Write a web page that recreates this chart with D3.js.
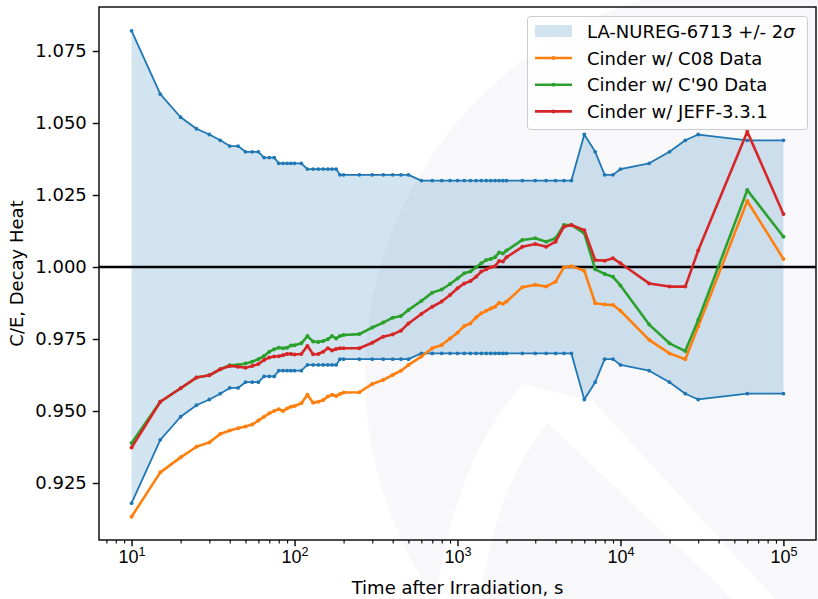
<!DOCTYPE html>
<html>
<head>
<meta charset="utf-8">
<script src="https://cdn.jsdelivr.net/npm/d3@7"></script>
<style>
  body { margin: 0; background: #fff; }
  svg { display: block; font-family: "DejaVu Sans", sans-serif; }
</style>
</head>
<body>
<svg id="chart" width="818" height="599"></svg>
<script>
// time after irradiation, s
let times = [10,15,20,25,30,35,40,45,50,55,60,65,70,75,80,85,90,95,100,
  110,120,130,140,150,160,170,180,190,200,250,300,350,400,450,500,
  600,700,800,900,1000,1100,1200,1300,1400,1500,1600,1700,1800,1900,2000,
  2500,3000,3500,4000,4500,5000,6000,7000,8000,9000,10000,
  15000,20000,25000,30000,60000,100000]

// LA-NUREG-6713 +/- 2 sigma band
let upper = [1.082,1.060,1.052,1.048,1.046,1.044,1.042,1.042,1.040,1.040,1.040,1.038,1.038,1.038,1.036,1.036,1.036,1.036,1.036,
  1.036,1.034,1.034,1.034,1.034,1.034,1.034,1.034,1.032,1.032,1.032,1.032,1.032,1.032,1.032,1.032,
  1.030,1.030,1.030,1.030,1.030,1.030,1.030,1.030,1.030,1.030,1.030,1.030,1.030,1.030,1.030,
  1.030,1.030,1.030,1.030,1.030,1.030,1.046,1.040,1.032,1.032,1.034,
  1.036,1.040,1.044,1.046,1.044,1.044]
let lower = [0.918,0.940,0.948,0.952,0.954,0.956,0.958,0.958,0.960,0.960,0.960,0.962,0.962,0.962,0.964,0.964,0.964,0.964,0.964,
  0.964,0.966,0.966,0.966,0.966,0.966,0.966,0.966,0.968,0.968,0.968,0.968,0.968,0.968,0.968,0.968,
  0.970,0.970,0.970,0.970,0.970,0.970,0.970,0.970,0.970,0.970,0.970,0.970,0.970,0.970,0.970,
  0.970,0.970,0.970,0.970,0.970,0.970,0.954,0.960,0.968,0.968,0.966,
  0.964,0.960,0.956,0.954,0.956,0.956]

let c08 = [0.9133,0.9287,0.9339,0.9376,0.9391,0.9420,0.9432,0.9440,0.9446,0.9453,0.9467,0.9480,0.9492,0.9500,0.9506,0.9500,0.9509,0.9515,0.9517,
  0.9527,0.9556,0.9529,0.9532,0.9538,0.9550,0.9556,0.9552,0.9559,0.9564,0.9565,0.9594,0.9608,0.9625,0.9640,0.9660,
  0.9689,0.9718,0.9729,0.9752,0.9772,0.9795,0.9804,0.9825,0.9839,0.9848,0.9856,0.9862,0.9876,0.9872,0.9880,
  0.9930,0.9938,0.9932,0.9949,0.9999,1.0003,0.9987,0.9874,0.9870,0.9868,0.9848,
  0.9747,0.9700,0.9680,0.9793,1.0229,1.0028]
let c90 = [0.9389,0.9532,0.9579,0.9616,0.9624,0.9645,0.9659,0.9660,0.9665,0.9671,0.9680,0.9691,0.9706,0.9714,0.9720,0.9718,0.9720,0.9727,0.9728,
  0.9735,0.9760,0.9741,0.9740,0.9743,0.9749,0.9760,0.9752,0.9760,0.9764,0.9767,0.9790,0.9807,0.9824,0.9830,0.9851,
  0.9882,0.9911,0.9922,0.9941,0.9960,0.9978,0.9984,0.9999,1.0013,1.0024,1.0028,1.0034,1.0050,1.0047,1.0057,
  1.0094,1.0100,1.0088,1.0100,1.0146,1.0146,1.0117,0.9992,0.9976,0.9966,0.9936,
  0.9800,0.9735,0.9708,0.9816,1.0267,1.0105]
let jeff = [0.9373,0.9532,0.9579,0.9616,0.9624,0.9645,0.9656,0.9654,0.9650,0.9656,0.9663,0.9677,0.9686,0.9689,0.9690,0.9694,0.9698,0.9698,0.9696,
  0.9698,0.9726,0.9697,0.9698,0.9706,0.9718,0.9710,0.9715,0.9718,0.9718,0.9718,0.9737,0.9758,0.9766,0.9779,0.9804,
  0.9837,0.9862,0.9880,0.9903,0.9926,0.9943,0.9951,0.9966,0.9984,0.9992,0.9999,1.0003,1.0021,1.0019,1.0034,
  1.0070,1.0080,1.0070,1.0088,1.0140,1.0146,1.0128,1.0024,1.0022,1.0030,1.0013,
  0.9943,0.9932,0.9932,1.0057,1.0470,1.0184]

let yTicks = [0.925,0.950,0.975,1.000,1.025,1.050,1.075]
let xTicks = [10,100,1000,10000,100000]
let seriesNames = ['Cinder w/ C08 Data', "Cinder w/ C'90 Data", 'Cinder w/ JEFF-3.3.1']
let seriesColors = ['#ff7f0e', '#2ca02c', '#d62728']

let svg = d3.select('#chart')
let pLeft = 99, pRight = 816, pTop = 7, pBottom = 540

// faint watermark behind the figure
let wm = svg.append('g')
wm.append('circle').attr('cx', 758).attr('cy', 375).attr('r', 393).attr('fill', '#f8f8fa')
wm.append('path').attr('d', 'M523,384 Q455,460 436,599 L480,599 Q498,480 548,423 L586,400 Z').attr('fill', '#fff')
wm.append('path').attr('d', 'M548,423 L590,398 L775,599 L733,599 Z').attr('fill', '#fff')

let x = d3.scaleLog().domain([Math.pow(10, 0.8), Math.pow(10, 5.2)]).range([pLeft, pRight])
let y = d3.scaleLinear().domain([1 - 273 / 2880, 1 + 260 / 2880]).range([pBottom, pTop])

let band = times.map((t, i) => ({t: t, lo: lower[i], hi: upper[i]}))

svg.append('path')
  .datum(band)
  .attr('d', d3.area().x(d => x(d.t)).y0(d => y(d.lo)).y1(d => y(d.hi)))
  .attr('fill', '#1f77b4')
  .attr('fill-opacity', 0.2)

let drawLine = (vals, color, width, r) => {
  let pts = times.map((t, i) => [t, vals[i]])
  svg.append('path')
    .datum(pts)
    .attr('d', d3.line().x(d => x(d[0])).y(d => y(d[1])))
    .attr('fill', 'none')
    .attr('stroke', color)
    .attr('stroke-width', width)
    .attr('stroke-linejoin', 'round')
  svg.append('g').selectAll('circle')
    .data(pts)
    .enter()
    .append('circle')
    .attr('cx', d => x(d[0]))
    .attr('cy', d => y(d[1]))
    .attr('r', r)
    .attr('fill', color)
}

drawLine(upper, '#1f77b4', 1.8, 1.9)
drawLine(lower, '#1f77b4', 1.8, 1.9)

// reference line at C/E = 1
svg.append('line')
  .attr('x1', pLeft).attr('x2', pRight)
  .attr('y1', y(1)).attr('y2', y(1))
  .attr('stroke', '#000').attr('stroke-width', 2.7)

drawLine(c08, seriesColors[0], 2.6, 2)
drawLine(c90, seriesColors[1], 2.6, 2)
drawLine(jeff, seriesColors[2], 2.6, 2)

// axes
let minor = []
for (let p = 0; p <= 4; p++) {
  for (let k = 2; k <= 9; k++) {
    let v = k * Math.pow(10, p)
    if (v >= x.domain()[0] && v <= x.domain()[1]) minor.push(v)
  }
}

let xAxis = svg.append('g')
  .attr('transform', `translate(0,${pBottom})`)
  .call(d3.axisBottom(x).tickValues(xTicks).tickSize(6.2).tickPadding(7).tickFormat(''))
xAxis.select('.domain').remove()
xAxis.selectAll('line').attr('stroke', '#000').attr('stroke-width', 1.4)
xAxis.selectAll('.tick').each(function(d) {
  let g = d3.select(this)
  let txt = g.append('text')
    .attr('fill', '#000')
    .attr('y', 23)
    .attr('text-anchor', 'middle')
    .attr('font-size', 18)
  txt.append('tspan').text('10')
  txt.append('tspan').attr('font-size', 12.6).attr('dy', -7.5).text(Math.round(Math.log10(d)))
})

let xMinor = svg.append('g')
  .attr('transform', `translate(0,${pBottom})`)
  .call(d3.axisBottom(x).tickValues(minor).tickSize(3.6).tickFormat(''))
xMinor.select('.domain').remove()
xMinor.selectAll('line').attr('stroke', '#000').attr('stroke-width', 1.1)

let yAxis = svg.append('g')
  .attr('transform', `translate(${pLeft},0)`)
  .call(d3.axisLeft(y).tickValues(yTicks).tickSize(6.2).tickPadding(6).tickFormat(d3.format('.3f')))
yAxis.select('.domain').remove()
yAxis.selectAll('line').attr('stroke', '#000').attr('stroke-width', 1.4)
yAxis.selectAll('text')
  .attr('fill', '#000')
  .attr('font-size', 18)
  .attr('font-family', 'DejaVu Sans')

// frame
svg.append('rect')
  .attr('x', pLeft).attr('y', pTop)
  .attr('width', pRight - pLeft).attr('height', pBottom - pTop)
  .attr('fill', 'none').attr('stroke', '#000').attr('stroke-width', 1.4)

svg.append('text')
  .attr('x', (pLeft + pRight) / 2).attr('y', 594)
  .attr('text-anchor', 'middle').attr('font-size', 18)
  .text('Time after Irradiation, s')

svg.append('text')
  .attr('transform', `translate(23,${(pTop + pBottom) / 2}) rotate(-90)`)
  .attr('text-anchor', 'middle').attr('font-size', 18)
  .text('C/E, Decay Heat')

// legend
let legend = svg.append('g')
legend.append('rect')
  .attr('x', 527.5).attr('y', 16.5).attr('width', 280).attr('height', 113).attr('rx', 3)
  .attr('fill', '#fff').attr('fill-opacity', 0.8)
  .attr('stroke', '#cccccc').attr('stroke-width', 1)
legend.append('rect')
  .attr('x', 535).attr('y', 25).attr('width', 37).attr('height', 12)
  .attr('fill', '#1f77b4').attr('fill-opacity', 0.2)
let first = legend.append('text').attr('x', 587).attr('y', 37.5).attr('font-size', 18)
first.append('tspan').text('LA-NUREG-6713 +/- 2')
first.append('tspan').attr('font-style', 'italic').text('σ')

seriesNames.forEach((name, i) => {
  let cy = 58 + i * 26.7
  legend.append('line')
    .attr('x1', 535).attr('x2', 572).attr('y1', cy).attr('y2', cy)
    .attr('stroke', seriesColors[i]).attr('stroke-width', 2.6)
  legend.append('circle').attr('cx', 553.5).attr('cy', cy).attr('r', 2).attr('fill', seriesColors[i])
  legend.append('text').attr('x', 587).attr('y', cy + 6.5).attr('font-size', 18).text(name)
})
</script>
</body>
</html>
